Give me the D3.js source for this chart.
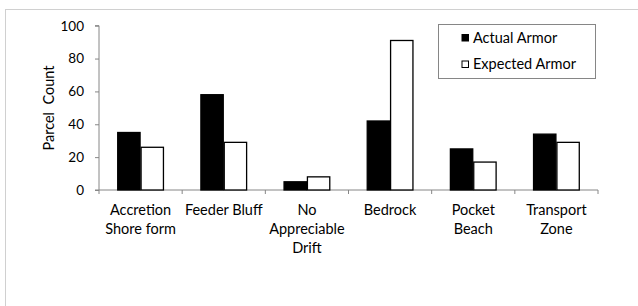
<!DOCTYPE html>
<html>
<head>
<meta charset="utf-8">
<script src="https://cdn.jsdelivr.net/npm/d3@7"></script>
<style>
  body { margin: 0; background: #fff; }
  text { font-family: Lato, "Liberation Sans", sans-serif; fill: #000; }
</style>
</head>
<body>
<svg id="chart" width="638" height="306"></svg>
<script>
var categories = [
  ["Accretion", "Shore form"],
  ["Feeder Bluff"],
  ["No", "Appreciable", "Drift"],
  ["Bedrock"],
  ["Pocket", "Beach"],
  ["Transport", "Zone"]
];
var actualArmor = [35, 58, 5, 42, 25, 34];
var expectedArmor = [26, 29, 8, 91, 17, 29];
var seriesNames = ["Actual Armor", "Expected Armor"];
var yTicks = [0, 20, 40, 60, 80, 100];

var fontSize = "14.5px";
var svg = d3.select("#chart");

// outer chart frame
svg.append("rect")
  .attr("x", 5.5).attr("y", 9.5)
  .attr("width", 640).attr("height", 310)
  .attr("fill", "none")
  .attr("stroke", "#d0d0d0");

var margin = { left: 99, right: 598, top: 25.7, bottom: 190 };

var x = d3.scaleBand()
  .domain(d3.range(categories.length))
  .range([margin.left, margin.right])
  .padding(0);

var inner = d3.scaleBand()
  .domain([0, 1])
  .range([0, x.bandwidth()])
  .paddingOuter(0.78)
  .paddingInner(0);

var y = d3.scaleLinear()
  .domain([0, 100])
  .range([margin.bottom, margin.top]);

// y axis
var yAxis = svg.append("g")
  .attr("transform", "translate(" + margin.left + ",0)")
  .call(d3.axisLeft(y).tickValues(yTicks).tickSize(4).tickPadding(11));
yAxis.attr("font-size", "13.5px").attr("font-family", null);
yAxis.select(".domain").attr("stroke", "#868686").attr("d", "M-4," + y(100) + "H0V" + y(0) + "H-4");
yAxis.selectAll(".tick line").attr("stroke", "#868686");

// x axis line and category tick marks
svg.append("line")
  .attr("x1", margin.left).attr("x2", margin.right)
  .attr("y1", y(0)).attr("y2", y(0))
  .attr("stroke", "#868686");

svg.selectAll(".xtick")
  .data(d3.range(categories.length + 1))
  .enter()
  .append("line")
  .attr("class", "xtick")
  .attr("x1", (d)=>(margin.left + d * x.bandwidth()))
  .attr("x2", (d)=>(margin.left + d * x.bandwidth()))
  .attr("y1", y(0))
  .attr("y2", y(0) + 4)
  .attr("stroke", "#868686");

// bars
var groups = svg.selectAll(".grp")
  .data(categories.map((c, i)=>({ i: i, vals: [actualArmor[i], expectedArmor[i]] })))
  .enter()
  .append("g")
  .attr("class", "grp")
  .attr("transform", (d)=>("translate(" + x(d.i) + ",0)"));

groups.selectAll("rect")
  .data((d)=>(d.vals))
  .enter()
  .append("rect")
  .attr("x", (d, j)=>(inner(j) + 0.5))
  .attr("width", inner.bandwidth() - 1)
  .attr("y", (d)=>(y(d)))
  .attr("height", (d)=>(y(0) - y(d)))
  .attr("fill", (d, j)=>(j == 0 ? "#000" : "#fff"))
  .attr("stroke", "#000")
  .attr("stroke-width", 1.3);

// category labels
svg.selectAll(".catLabel")
  .data(categories)
  .enter()
  .append("text")
  .attr("class", "catLabel")
  .attr("text-anchor", "middle")
  .attr("font-size", fontSize)
  .attr("x", (d, i)=>(x(i) + x.bandwidth() / 2))
  .attr("y", 214.5)
  .each(function(d) {
    var t = d3.select(this);
    d.forEach(function(line, k) {
      t.append("tspan")
        .attr("x", t.attr("x"))
        .attr("dy", k == 0 ? 0 : 19)
        .text(line);
    });
  });

// y axis title
svg.append("text")
  .attr("transform", "translate(54,108) rotate(-90)")
  .attr("text-anchor", "middle")
  .attr("font-size", fontSize)
  .style("white-space", "pre")
  .text("Parcel  Count");

// legend
var legend = svg.append("g");
legend.append("rect")
  .attr("x", 438.5).attr("y", 24.5)
  .attr("width", 157).attr("height", 54)
  .attr("fill", "#fff")
  .attr("stroke", "#868686");

legend.selectAll(".legendRect")
  .data(seriesNames)
  .enter()
  .append("rect")
  .attr("class", "legendRect")
  .attr("x", 462)
  .attr("y", (d, i)=>(34.5 + i * 26.5))
  .attr("width", 6.5)
  .attr("height", 6.5)
  .attr("fill", (d, i)=>(i == 0 ? "#000" : "#fff"))
  .attr("stroke", "#000")
  .attr("stroke-width", 1);

legend.selectAll(".legendText")
  .data(seriesNames)
  .enter()
  .append("text")
  .attr("class", "legendText")
  .attr("x", 473)
  .attr("y", (d, i)=>(42.5 + i * 26.5))
  .attr("font-size", fontSize)
  .text((d)=>(d));
</script>
</body>
</html>
